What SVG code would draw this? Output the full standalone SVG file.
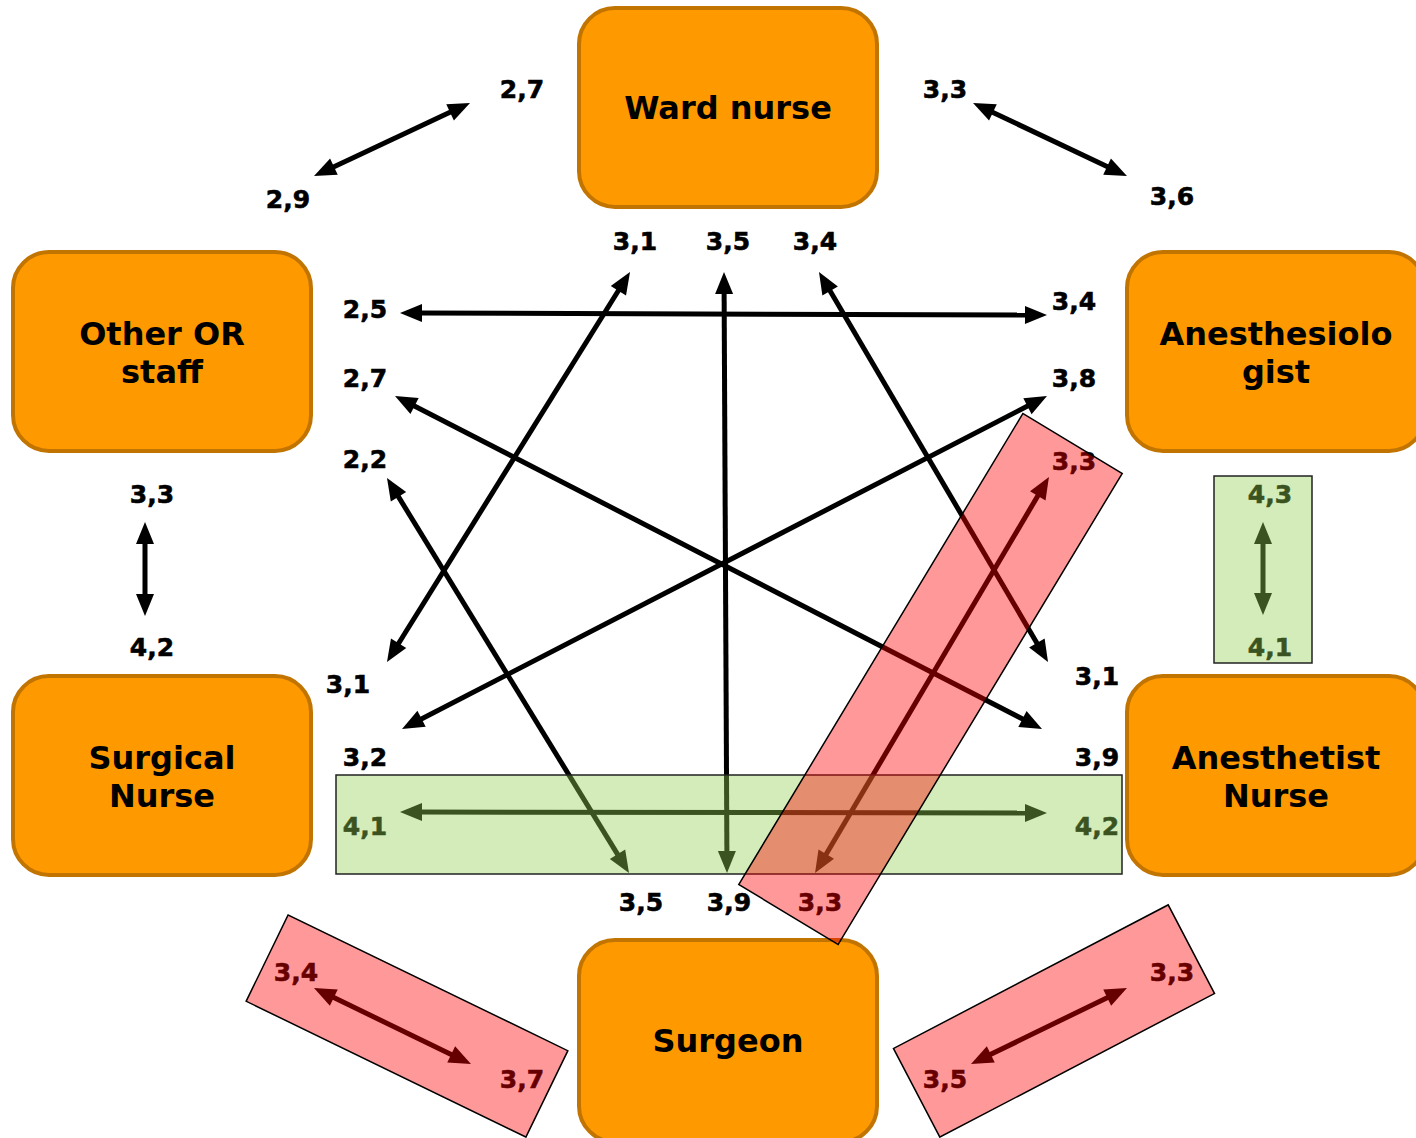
<svg xmlns="http://www.w3.org/2000/svg" width="1416" height="1138" viewBox="0 0 1416 1138">
<style>
.box{fill:#FF9900;stroke:#C27400;stroke-width:4}
.nt{font-family:"DejaVu Sans",Verdana,sans-serif;font-weight:bold;font-size:32px;fill:#000;text-anchor:middle}
.num{font-family:"DejaVu Sans",Verdana,sans-serif;font-weight:bold;font-size:25px;fill:#000;stroke:#000;stroke-width:0.6;text-anchor:middle}
.ln{stroke:#000;stroke-width:5;fill:none;marker-start:url(#ah);marker-end:url(#ah)}
.g{fill:#92D050;fill-opacity:0.4;stroke:#222;stroke-width:1.5}
.r{fill:#FF0000;fill-opacity:0.4;stroke:#000;stroke-width:1.5}
</style>
<defs>
<marker id="ah" markerUnits="userSpaceOnUse" markerWidth="22" markerHeight="18" refX="4" refY="9" orient="auto-start-reverse" overflow="visible">
<path d="M0,0 L22,9 L0,18 z" fill="#000"/>
</marker>
</defs>
<rect width="1416" height="1138" fill="#fff"/>
<g id="ward-nurse"><rect class="box" x="579" y="8" width="298" height="199" rx="36"/><text class="nt" x="728" y="119">Ward nurse</text></g>
<g id="other-or-staff"><rect class="box" x="13" y="252" width="298" height="199" rx="36"/><text class="nt" x="162" y="345">Other OR</text><text class="nt" x="162" y="383">staff</text></g>
<g id="anesthesiologist"><rect class="box" x="1127" y="252" width="298" height="199" rx="36"/><text class="nt" x="1276" y="345">Anesthesiolo</text><text class="nt" x="1276" y="383">gist</text></g>
<g id="surgical-nurse"><rect class="box" x="13" y="676" width="298" height="199" rx="36"/><text class="nt" x="162" y="769">Surgical</text><text class="nt" x="162" y="807">Nurse</text></g>
<g id="anesthetist-nurse"><rect class="box" x="1127" y="676" width="298" height="199" rx="36"/><text class="nt" x="1276" y="769">Anesthetist</text><text class="nt" x="1276" y="807">Nurse</text></g>
<g id="surgeon"><rect class="box" x="579" y="940" width="298" height="202" rx="36"/><text class="nt" x="728" y="1052">Surgeon</text></g>
<g id="connectors">
<line class="ln" x1="453.7" y1="110.6" x2="330.3" y2="168.4"/>
<line class="ln" x1="989.3" y1="110.7" x2="1110.7" y2="168.3"/>
<line class="ln" x1="418" y1="313" x2="1029" y2="315"/>
<line class="ln" x1="411" y1="404.2" x2="1026" y2="720.8"/>
<line class="ln" x1="1031" y1="404.3" x2="418" y2="720.7"/>
<line class="ln" x1="620.5" y1="287.3" x2="396.5" y2="646.7"/>
<line class="ln" x1="724.1" y1="290" x2="726.9" y2="855"/>
<line class="ln" x1="828.1" y1="287.5" x2="1038.9" y2="646.5"/>
<line class="ln" x1="396.4" y1="493.4" x2="619.6" y2="857.6"/>
<line class="ln" x1="418" y1="812" x2="1029" y2="813"/>
<line class="ln" x1="1039.8" y1="492.5" x2="824.2" y2="857.5"/>
<line class="ln" x1="145" y1="540" x2="145" y2="598"/>
<line class="ln" x1="1263" y1="540" x2="1263" y2="597"/>
<line class="ln" x1="330.2" y1="995.8" x2="454.8" y2="1056.2"/>
<line class="ln" x1="1110.8" y1="995.9" x2="987.2" y2="1056.1"/>
</g>
<g id="labels">
<text class="num" x="522" y="98">2,7</text>
<text class="num" x="288" y="208">2,9</text>
<text class="num" x="945" y="98">3,3</text>
<text class="num" x="1172" y="205">3,6</text>
<text class="num" x="635" y="250">3,1</text>
<text class="num" x="728" y="250">3,5</text>
<text class="num" x="815" y="250">3,4</text>
<text class="num" x="365" y="318">2,5</text>
<text class="num" x="365" y="387">2,7</text>
<text class="num" x="365" y="468">2,2</text>
<text class="num" x="1074" y="310">3,4</text>
<text class="num" x="1074" y="387">3,8</text>
<text class="num" x="1074" y="470">3,3</text>
<text class="num" x="152" y="503">3,3</text>
<text class="num" x="152" y="656">4,2</text>
<text class="num" x="1270" y="503">4,3</text>
<text class="num" x="1270" y="656">4,1</text>
<text class="num" x="348" y="693">3,1</text>
<text class="num" x="365" y="766">3,2</text>
<text class="num" x="1097" y="685">3,1</text>
<text class="num" x="1097" y="766">3,9</text>
<text class="num" x="365" y="835">4,1</text>
<text class="num" x="1097" y="835">4,2</text>
<text class="num" x="641" y="911">3,5</text>
<text class="num" x="729" y="911">3,9</text>
<text class="num" x="820" y="911">3,3</text>
<text class="num" x="296" y="981">3,4</text>
<text class="num" x="522" y="1088">3,7</text>
<text class="num" x="1172" y="981">3,3</text>
<text class="num" x="945" y="1088">3,5</text>
</g>
<g id="overlays">
<rect class="g" x="336" y="775" width="786" height="99"/>
<rect class="g" x="1214" y="476" width="98" height="187"/>
<rect class="r" x="-58" y="-275" width="116" height="550" transform="translate(930.5 679) rotate(31.1)"/>
<rect class="r" x="-155.5" y="-48" width="311" height="96" transform="translate(407 1026) rotate(25.9)"/>
<rect class="r" x="-155" y="-50" width="310" height="100" transform="translate(1054 1021) rotate(-27.6)"/>
</g>
</svg>
